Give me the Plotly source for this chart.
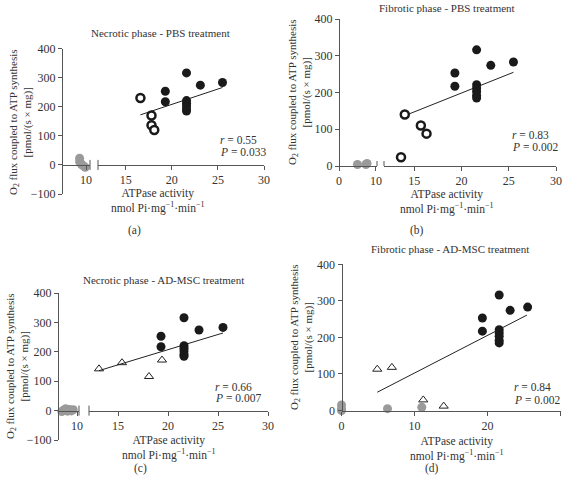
import plotly.graph_objects as go

W, H = 565, 480

# ---------------- data ----------------
black_x = [19.3, 19.3, 21.6, 21.6, 21.6, 21.6, 21.6, 21.6, 23.1, 25.5]
black_y = [253, 217, 316, 221, 212, 203, 192, 185, 274, 283]

a_open_x = [16.6, 17.8, 17.8, 18.1]
a_open_y = [230, 170, 136, 120]
a_gray_x = [9.2, 9.2, 9.4, 9.6, 9.9]
a_gray_y = [23, 11, 3, -2, -8]
a_fit_x = [16.6, 25.5]
a_fit_y = [172, 266]

b_open_x = [14.0, 15.7, 16.3, 13.6]
b_open_y = [140, 110, 88, 24]
b_gray_x = [5.0, 7.3, 7.6]
b_gray_y = [4, 4, 7]
b_fit_x = [14.0, 25.5]
b_fit_y = [137, 255]

c_tri_x = [13.1, 15.4, 19.4, 18.1]
c_tri_y = [142, 163, 172, 116]
c_gray_x = [8.4, 8.6, 8.8, 9.0, 9.2, 9.4, 9.6]
c_gray_y = [-3, 2, 6, -2, 4, -1, 3]
c_fit_x = [13.1, 25.5]
c_fit_y = [136, 264]

d_tri_x = [4.9, 6.9, 11.2, 14.0]
d_tri_y = [113, 118, 29, 12]
d_gray_x = [0, 0, 0, 6.3, 11.0]
d_gray_y = [15, 4, 0, 5, 9]
d_fit_x = [4.9, 25.4]
d_fit_y = [50, 261]

titles = ["Necrotic phase - PBS treatment", "Fibrotic phase - PBS treatment",
          "Necrotic phase - AD-MSC treatment", "Fibrotic phase - AD-MSC treatment"]
stats_r = ["0.55", "0.83", "0.66", "0.84"]
stats_p = ["0.033", "0.002", "0.007", "0.002"]
panel_labels = ["(a)", "(b)", "(c)", "(d)"]

# ---------------- style ----------------
FONT = "Liberation Serif"
AX_COL = "#555555"
TXT_COL = "#333333"
GRAY = "#9a9a9a"

def px_x(p):
    return p / W

def px_y(p):
    return 1 - p / H

fig = go.Figure()
layout = {}
shapes = []
annotations = []

axis_common = dict(showgrid=False, zeroline=False, showline=True, linecolor=AX_COL,
                   linewidth=1, ticks="outside", ticklen=4, tickcolor=AX_COL,
                   tickfont=dict(family=FONT, size=12, color=TXT_COL))

# panel geometry (pixels): y-axis x, segments, y domain
panels = [
    dict(left=(62, 90, [7, 10.5], [10]), right=(98, 264, [12, 30], [15, 20, 25, 30]),
         ydom=(194, 48.5), yrange=[-100, 400], yticks=[-100, 0, 100, 200, 300, 400]),
    dict(left=(339, 377, [0, 10.3], [0, 10]), right=(384, 556, [11.8, 30], [15, 20, 25, 30]),
         ydom=(166, 19), yrange=[0, 400], yticks=[0, 100, 200, 300, 400]),
    dict(left=(58, 79, [8, 10.2], [10]), right=(89, 268, [12.1, 30], [15, 20, 25, 30]),
         ydom=(440, 293), yrange=[-100, 400], yticks=[-100, 0, 100, 200, 300, 400]),
    dict(left=None, right=(341.5, 560.5, [0, 30], [0, 10, 20, 30]),
         ydom=(410.5, 264.3), yrange=[0, 400], yticks=[0, 100, 200, 300, 400]),
]

xcount = 0
for i, p in enumerate(panels):
    yi = i + 1
    yname = "yaxis" if yi == 1 else f"yaxis{yi}"
    yref = "y" if yi == 1 else f"y{yi}"
    y0d, y1d = px_y(p["ydom"][0]), px_y(p["ydom"][1])
    yr = p["yrange"]
    zero_pos = y0d + (y1d - y0d) * (0 - yr[0]) / (yr[1] - yr[0])

    segs = []
    for key in ("left", "right"):
        if p[key] is None:
            continue
        xcount += 1
        xname = "xaxis" if xcount == 1 else f"xaxis{xcount}"
        xref = "x" if xcount == 1 else f"x{xcount}"
        a, b, rng, tv = p[key]
        layout[xname] = dict(axis_common, domain=[px_x(a), px_x(b)], range=rng,
                             tickvals=tv, anchor="free", position=zero_pos)
        segs.append((key, xref))

    ystart = p["left"][0] if p["left"] else p["right"][0]
    layout[yname] = dict(axis_common, domain=[y0d, y1d], range=yr, tickvals=p["yticks"],
                         anchor="free", position=px_x(ystart))

    # axis break marks
    if len(segs) == 2:
        for key, xr in segs:
            shapes.append(dict(type="line", xref=f"{xr} domain", yref=yref,
                               x0=1 if key == "left" else 0, x1=1 if key == "left" else 0,
                               ysizemode="pixel", yanchor=0, y0=-5, y1=5,
                               line=dict(color=AX_COL, width=1)))
    p["segs"] = dict(segs)
    p["yref"] = yref

def add(xs, ys, xr, yr, **kw):
    fig.add_trace(go.Scatter(x=xs, y=ys, xaxis=xr, yaxis=yr, cliponaxis=False,
                             showlegend=False, hoverinfo="x+y", **kw))

black_m = dict(size=9, color="#1a1a1a")
gray_m = dict(size=9, color=GRAY)
open_m = dict(size=8, color="white", line=dict(color="#1a1a1a", width=2.5))
tri_m = dict(size=8, symbol="triangle-up-open", color="#222222", line=dict(width=1))
fit_l = dict(color="#222222", width=1)

# panel a
pa = panels[0]
add(a_gray_x, a_gray_y, pa["segs"]["left"], pa["yref"], mode="markers", marker=gray_m)
add(a_fit_x, a_fit_y, pa["segs"]["right"], pa["yref"], mode="lines", line=fit_l)
add(black_x, black_y, pa["segs"]["right"], pa["yref"], mode="markers", marker=black_m)
add(a_open_x, a_open_y, pa["segs"]["right"], pa["yref"], mode="markers", marker=open_m)
# panel b
pb = panels[1]
add(b_gray_x, b_gray_y, pb["segs"]["left"], pb["yref"], mode="markers", marker=gray_m)
add(b_fit_x, b_fit_y, pb["segs"]["right"], pb["yref"], mode="lines", line=fit_l)
add(black_x, black_y, pb["segs"]["right"], pb["yref"], mode="markers", marker=black_m)
add(b_open_x, b_open_y, pb["segs"]["right"], pb["yref"], mode="markers", marker=open_m)
# panel c
pc = panels[2]
add(c_gray_x, c_gray_y, pc["segs"]["left"], pc["yref"], mode="markers", marker=gray_m)
add(c_fit_x, c_fit_y, pc["segs"]["right"], pc["yref"], mode="lines", line=fit_l)
add(black_x, black_y, pc["segs"]["right"], pc["yref"], mode="markers", marker=black_m)
add(c_tri_x, c_tri_y, pc["segs"]["right"], pc["yref"], mode="markers", marker=tri_m)
# panel d
pd_ = panels[3]
add(d_fit_x, d_fit_y, pd_["segs"]["right"], pd_["yref"], mode="lines", line=fit_l)
add(d_gray_x, d_gray_y, pd_["segs"]["right"], pd_["yref"], mode="markers", marker=gray_m)
add(black_x, black_y, pd_["segs"]["right"], pd_["yref"], mode="markers", marker=black_m)
add(d_tri_x, d_tri_y, pd_["segs"]["right"], pd_["yref"], mode="markers", marker=tri_m)

# ---------------- text ----------------
def txt(x, y, text, size=11, angle=0, xanchor="center", yanchor="middle", align="center"):
    annotations.append(dict(x=px_x(x), y=px_y(y), xref="paper", yref="paper", text=text,
                            showarrow=False, textangle=angle, xanchor=xanchor,
                            yanchor=yanchor, align=align,
                            font=dict(family=FONT, size=size, color=TXT_COL)))

title_pos = [(160, 33), (447, 8), (163, 280), (450, 249)]
ytitle_pos = [(20, 122), (299, 92), (17, 366), (301, 337)]
xtitle_pos = [(158, 201), (447, 202), (169, 448), (457, 449)]
label_pos = [(134, 230), (417, 230), (140, 468), (432, 468)]
stat_pos = [(218, 140, 152), (510, 135, 147), (213, 387, 398), (512, 387, 400)]

ytitle = "O<sub>2</sub> flux coupled to ATP synthesis<br>[pmol/(s × mg)]"
xtitle = "ATPase activity<br>nmol Pi·mg<sup>−1</sup>·min<sup>−1</sup>"

for i in range(4):
    txt(*title_pos[i], titles[i], size=11)
    txt(*ytitle_pos[i], ytitle, size=11, angle=-90)
    txt(*xtitle_pos[i], xtitle, size=11.5)
    txt(*label_pos[i], panel_labels[i], size=11.5)
    sx, sy1, sy2 = stat_pos[i]
    txt(sx, sy1, f"<i>r</i> = {stats_r[i]}", size=11.5, xanchor="left")
    txt(sx, sy2, f"<i>P</i> = {stats_p[i]}", size=11.5, xanchor="left")

fig.update_layout(width=W, height=H,
                  margin=dict(l=0, r=0, t=0, b=0, pad=0, autoexpand=False),
                  paper_bgcolor="white", plot_bgcolor="rgba(0,0,0,0)",
                  shapes=shapes, annotations=annotations, **layout)

fig.write_html("out.html", config={"displayModeBar": False},
               post_script="document.body.style.margin='0';"
                           "document.body.style.overflow='hidden';")
